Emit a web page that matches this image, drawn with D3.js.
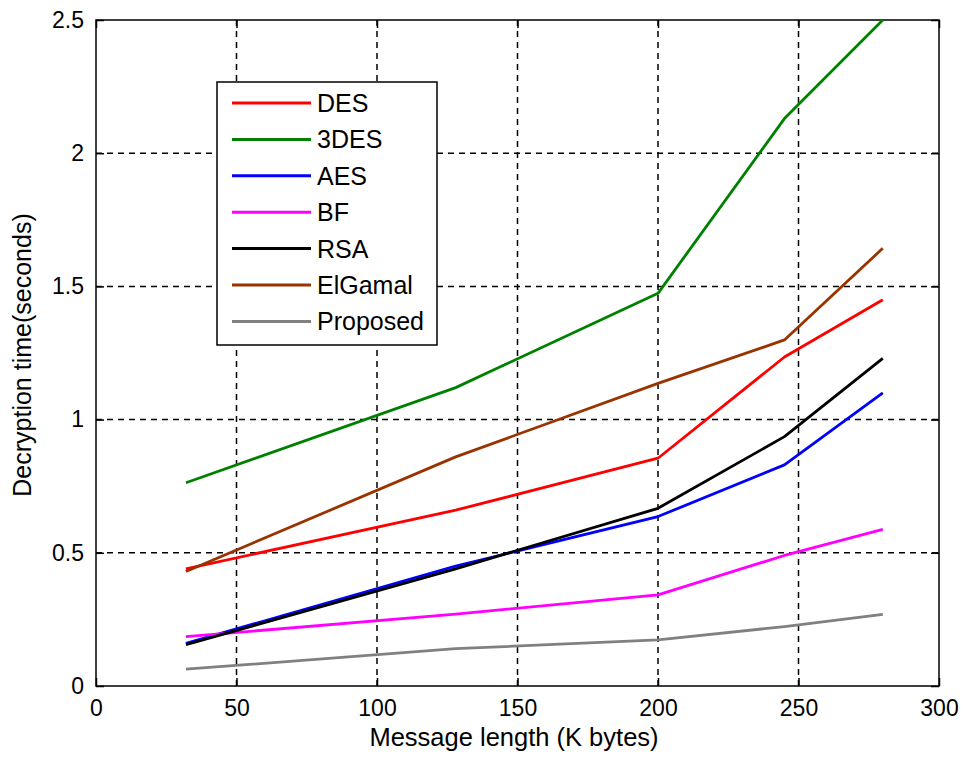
<!DOCTYPE html>
<html>
<head>
<meta charset="utf-8">
<script src="https://cdn.jsdelivr.net/npm/d3@7"></script>
<style>
  html, body { margin: 0; padding: 0; background: #fff; }
  svg { display: block; font-family: "Liberation Sans", Arial, sans-serif; }
</style>
</head>
<body>
<svg id="chart" width="964" height="759"></svg>
<script>
const xValues = [32, 128, 200, 245, 280];
const seriesNames = ["DES", "3DES", "AES", "BF", "RSA", "ElGamal", "Proposed"];
const DES      = [0.44, 0.66, 0.855, 1.235, 1.45];
const TDES     = [0.763, 1.12, 1.474, 2.13, 2.5];
const AES      = [0.16, 0.45, 0.636, 0.83, 1.1];
const BF       = [0.185, 0.27, 0.342, 0.49, 0.588];
const RSA      = [0.155, 0.44, 0.667, 0.936, 1.23];
const ElGamal  = [0.43, 0.86, 1.136, 1.299, 1.643];
const Proposed = [0.063, 0.14, 0.173, 0.223, 0.269];
const xTicks = [0, 50, 100, 150, 200, 250, 300];
const yTicks = [0, 0.5, 1, 1.5, 2, 2.5];
const yTickLabels = ["0", "0.5", "1", "1.5", "2", "2.5"];
const xLabel = "Message length (K bytes)";
const yLabel = "Decryption time(seconds)";

const seriesValues = [DES, TDES, AES, BF, RSA, ElGamal, Proposed];
const colors = ["#ff0000", "#008000", "#0000ff", "#ff00ff", "#000000", "#993300", "#808080"];

const svg = d3.select("#chart");
const pLeft = 96, pRight = 939, pTop = 20, pBottom = 686;
const x = d3.scaleLinear().domain([0, 300]).range([pLeft, pRight]);
const y = d3.scaleLinear().domain([0, 2.5]).range([pBottom, pTop]);

// grid
const grid = svg.append("g");
xTicks.filter(t => t > 0 && t < 300).forEach(t => {
  grid.append("line").attr("x1", x(t)).attr("x2", x(t)).attr("y1", pTop).attr("y2", pBottom)
    .attr("stroke", "#000").attr("stroke-width", 1.5).attr("stroke-dasharray", "6,5");
});
yTicks.filter(t => t > 0 && t < 2.5).forEach(t => {
  grid.append("line").attr("x1", pLeft).attr("x2", pRight).attr("y1", y(t)).attr("y2", y(t))
    .attr("stroke", "#000").attr("stroke-width", 1.5).attr("stroke-dasharray", "6,5");
});

// axes
const xAxis = d3.axisBottom(x).tickValues(xTicks).tickSize(-8).tickPadding(14);
const yAxis = d3.axisLeft(y).tickValues(yTicks).tickSize(-8).tickPadding(12)
  .tickFormat((d, i) => yTickLabels[i]);
const gx = svg.append("g").attr("transform", `translate(0,${pBottom})`).call(xAxis);
const gy = svg.append("g").attr("transform", `translate(${pLeft},0)`).call(yAxis);
const gx2 = svg.append("g").attr("transform", `translate(0,${pTop})`)
  .call(d3.axisTop(x).tickValues(xTicks).tickSize(-8).tickFormat(""));
const gy2 = svg.append("g").attr("transform", `translate(${pRight},0)`)
  .call(d3.axisRight(y).tickValues(yTicks).tickSize(-8).tickFormat(""));
[gx, gy, gx2, gy2].forEach(g => {
  g.select(".domain").remove();
  g.selectAll(".tick line").attr("stroke", "#000").attr("stroke-width", 1.5);
  g.selectAll("text").attr("font-size", 23).attr("fill", "#000")
    .attr("font-family", "'Liberation Sans', Arial, sans-serif");
});
svg.append("rect").attr("x", pLeft).attr("y", pTop).attr("width", pRight - pLeft).attr("height", pBottom - pTop)
  .attr("fill", "none").attr("stroke", "#000").attr("stroke-width", 1.5);

// lines
const line = d3.line().x((d, i) => x(xValues[i])).y(d => y(d));
seriesValues.forEach((vals, k) => {
  svg.append("path").datum(vals).attr("d", line).attr("fill", "none")
    .attr("stroke", colors[k]).attr("stroke-width", 2.8).attr("stroke-linejoin", "round");
});

// labels
svg.append("text").attr("x", 514).attr("y", 746).attr("text-anchor", "middle")
  .attr("font-size", 25.5).text(xLabel);
svg.append("text").attr("transform", `translate(31,355) rotate(-90)`).attr("text-anchor", "middle")
  .attr("font-size", 25).text(yLabel);

// legend
const lg = svg.append("g");
lg.append("rect").attr("x", 217).attr("y", 82).attr("width", 220).attr("height", 263)
  .attr("fill", "#fff").attr("stroke", "#000").attr("stroke-width", 1.5);
seriesNames.forEach((name, k) => {
  const ry = 103 + k * 36.4;
  lg.append("line").attr("x1", 232).attr("x2", 311).attr("y1", ry).attr("y2", ry)
    .attr("stroke", colors[k]).attr("stroke-width", 3);
  lg.append("text").attr("x", 317).attr("y", ry).attr("dy", "0.36em")
    .attr("font-size", 25).text(name);
});
</script>
</body>
</html>
